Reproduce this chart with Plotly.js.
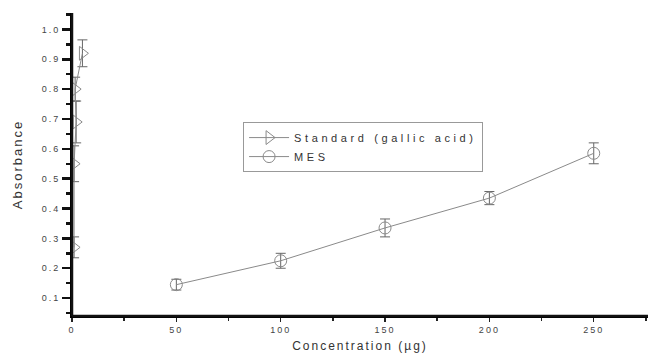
<!DOCTYPE html>
<html>
<head>
<script src="https://cdn.plot.ly/plotly-3.0.1.min.js"></script>
<style>
body{margin:0;background:#fff;}
svg text{letter-spacing:2px;}
text.legendtext{letter-spacing:3.6px;}
</style>
</head>
<body>
<div id="chart" style="width:650px;height:361px;"></div>
<script>
// Standard (gallic acid)
const stdX = [1, 1, 2, 1.5, 5];
const stdY = [0.27, 0.55, 0.69, 0.80, 0.92];
const stdErr = [0.035, 0.06, 0.07, 0.04, 0.045];
// MES
const mesX = [50, 100, 150, 200, 250];
const mesY = [0.145, 0.225, 0.335, 0.435, 0.585];
const mesErr = [0.018, 0.025, 0.03, 0.022, 0.035];

const xTicks = [0, 50, 100, 150, 200, 250];
const yTicks = [0.1, 0.2, 0.3, 0.4, 0.5, 0.6, 0.7, 0.8, 0.9, 1.0];
const yTickText = ['0.1','0.2','0.3','0.4','0.5','0.6','0.7','0.8','0.9','1.0'];

const gray = '#8a8a8a';
const traces = [
  {x: stdX, y: stdY, name: 'Standard (gallic acid)', type: 'scatter', mode: 'lines+markers',
   line: {color: gray, width: 1},
   marker: {symbol: 'triangle-right-open', size: 12, color: gray, line: {width: 1}},
   error_y: {type: 'data', array: stdErr, visible: true, color: '#666', thickness: 1, width: 5}},
  {x: mesX, y: mesY, name: 'MES', type: 'scatter', mode: 'lines+markers',
   line: {color: gray, width: 1},
   marker: {symbol: 'circle-open', size: 12, color: gray, line: {width: 1}},
   error_y: {type: 'data', array: mesErr, visible: true, color: '#666', thickness: 1, width: 5}}
];

const layout = {
  width: 650, height: 361,
  margin: {l: 72, r: 2, t: 13, b: 45},
  paper_bgcolor: '#fff', plot_bgcolor: '#fff',
  font: {family: 'Liberation Sans, Arial, sans-serif', color: '#444'},
  showlegend: true,
  legend: {x: 0.297, y: 0.64, xanchor: 'left', yanchor: 'top',
           bordercolor: '#999', borderwidth: 1, bgcolor: '#fff',
           font: {size: 11, color: '#333'}, tracegroupgap: 0, itemwidth: 40},
  shapes: [
    {type: 'line', xref: 'paper', yref: 'paper', x0: 0, x1: 1, y0: 0, y1: 0,
     line: {color: '#111', width: 2.5}, layer: 'above'},
    {type: 'line', xref: 'paper', yref: 'paper', x0: 0, x1: 0, y0: 0, y1: 1,
     line: {color: '#111', width: 2.5}, layer: 'above'}
  ],
  xaxis: {range: [0, 276], tickvals: xTicks, ticktext: xTicks.map(String),
          showgrid: false, zeroline: false, showline: true, linecolor: '#000', linewidth: 2,
          ticks: 'outside', ticklen: 4, tickwidth: 1.5, tickcolor: '#222',
          minor: {dtick: 25, tick0: 0, ticks: 'outside', ticklen: 3, tickcolor: '#222', tickwidth: 1.5},
          tickfont: {size: 9, color: '#444'},
          title: {text: 'Concentration (µg)', font: {size: 12, color: '#333'}, standoff: 8}},
  yaxis: {range: [0.04, 1.055], tickvals: yTicks, ticktext: yTickText,
          showgrid: false, zeroline: false, showline: true, linecolor: '#000', linewidth: 2,
          ticks: 'outside', ticklen: 8, tickwidth: 2.5, tickcolor: '#111',
          minor: {dtick: 0.05, tick0: 0, ticks: 'outside', ticklen: 4, tickcolor: '#111', tickwidth: 2.5},
          tickfont: {size: 9, color: '#444'},
          title: {text: 'Absorbance', font: {size: 13, color: '#333'}, standoff: 16}}
};

Plotly.newPlot('chart', traces, layout, {displayModeBar: false, staticPlot: true});
</script>
</body>
</html>
